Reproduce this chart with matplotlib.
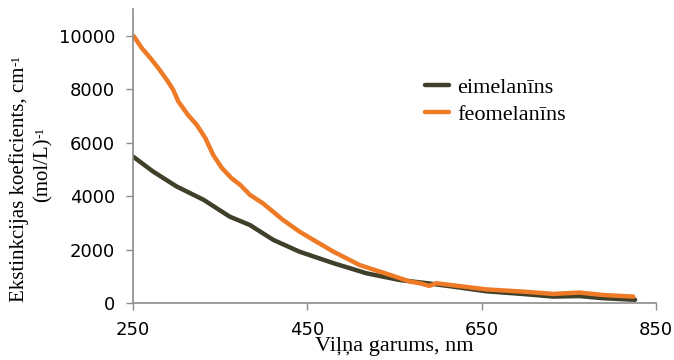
import numpy as np
import matplotlib.pyplot as plt

# wavelength (nm) and extinction coefficient
wl_eu = [250, 273, 300, 331, 361, 384, 411, 441, 480, 518, 556, 590, 620, 655, 700, 732, 762, 789, 826]
eu = [5480, 4920, 4360, 3860, 3230, 2920, 2360, 1920, 1490, 1110, 860, 730, 600, 440, 330, 240, 260, 180, 120]

wl_pheo = [251, 260, 270, 279, 290, 296, 302, 313, 323, 333, 342, 352, 363, 373, 384, 399, 422, 441,
           457, 480, 510, 545, 568, 579, 590, 598, 655, 700, 732, 762, 789, 824]
pheo = [9980, 9540, 9160, 8790, 8290, 7980, 7540, 7040, 6670, 6170, 5540, 5050, 4670, 4420, 4050, 3730,
        3110, 2670, 2360, 1920, 1420, 1050, 800, 740, 640, 740, 510, 420, 340, 390, 300, 240]

xticks = [250, 450, 650, 850]
yticks = [0, 2000, 4000, 6000, 8000, 10000]

c_eu = '#403f2a'
c_pheo = '#ef7a26'
grey = '#8c8c8c'
serif = 'Liberation Serif'

fig = plt.figure(figsize=(6.74, 3.6), dpi=100)
ax = fig.add_axes([133/674, 1-303/360, 523/674, 294/360])

ax.plot(wl_eu, eu, color=c_eu, lw=3.2, solid_capstyle='round', solid_joinstyle='round',
        label='eimelanīns')
ax.plot(wl_pheo, pheo, color=c_pheo, lw=3.2, solid_capstyle='round', solid_joinstyle='round',
        label='feomelanīns')

ax.set_xlim(250, 850)
ax.set_ylim(0, 11000)
ax.set_xticks(xticks)
ax.set_yticks(yticks)
ax.tick_params(labelsize=13, colors=grey, labelcolor='black', length=5, width=1)
ax.tick_params(axis='x', pad=8)
ax.tick_params(axis='y', pad=8)
for s in ['top', 'right']:
    ax.spines[s].set_visible(False)
for s in ['left', 'bottom']:
    ax.spines[s].set_color(grey)
    ax.spines[s].set_linewidth(1.2)

ax.legend(loc='upper left', bbox_to_anchor=(405/674, 1-57/360), bbox_transform=fig.transFigure,
          frameon=False, prop={'family': serif, 'size': 16}, handlelength=1.1,
          handletextpad=0.35, labelspacing=0.3)

fig.text(394/674, 1-347/360, 'Viļņa garums, nm', family=serif, fontsize=16, ha='center', va='center')

# y label: two rotated lines with small superscripts
t1 = fig.text(19/674, 1-184/360, 'Ekstinkcijas koeficients, cm', family=serif, fontsize=15,
              rotation=90, ha='center', va='center')
t2 = fig.text(43/674, 1-170/360, '(mol/L)', family=serif, fontsize=15,
              rotation=90, ha='center', va='center')
for t in (t1, t2):
    ax.annotate('-1', xy=(0.05, 1), xycoords=t, rotation=90, ha='left', va='bottom',
                family=serif, fontsize=9.5, annotation_clip=False)

fig.savefig('out.png', dpi=100)
